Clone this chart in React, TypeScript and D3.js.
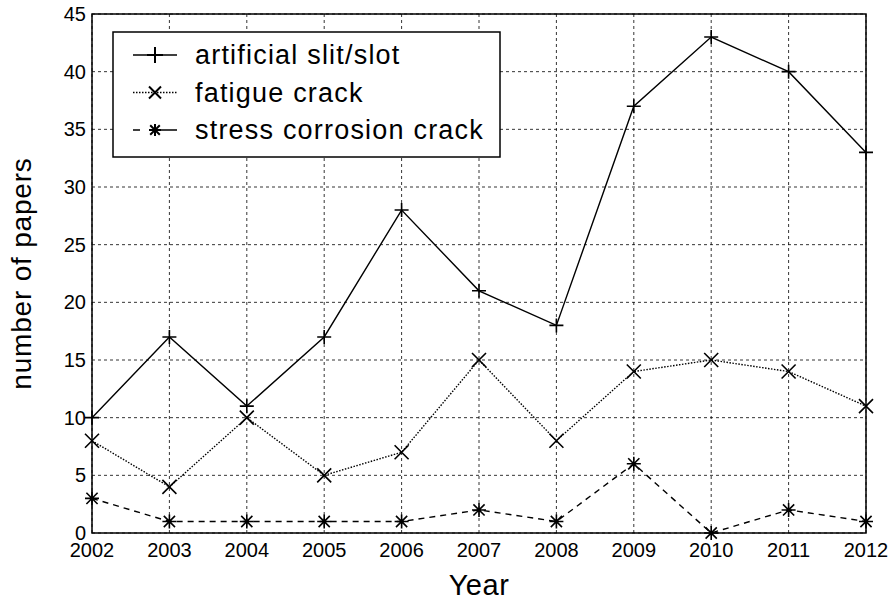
import { useEffect, useRef } from "react";
import * as d3 from "d3";

const years = [2002, 2003, 2004, 2005, 2006, 2007, 2008, 2009, 2010, 2011, 2012];
const artificialSlit = [10, 17, 11, 17, 28, 21, 18, 37, 43, 40, 33];
const fatigueCrack = [8, 4, 10, 5, 7, 15, 8, 14, 15, 14, 11];
const stressCorrosion = [3, 1, 1, 1, 1, 2, 1, 6, 0, 2, 1];
const yTicks = [0, 5, 10, 15, 20, 25, 30, 35, 40, 45];

const seriesNames = ["artificial slit/slot", "fatigue crack", "stress corrosion crack"];

export default function App() {
  const svgRef = useRef<SVGSVGElement | null>(null);

  useEffect(() => {
    const W = 892, H = 600;
    const margin = { top: 14, right: 26, bottom: 67, left: 92 };
    const width = W - margin.left - margin.right;
    const height = H - margin.top - margin.bottom;
    const font = "'Liberation Sans', Arial, sans-serif";

    const svg = d3.select(svgRef.current).attr("width", W).attr("height", H);
    svg.selectAll("*").remove();
    svg.append("rect").attr("width", W).attr("height", H).attr("fill", "white");

    const g = svg.append("g").attr("transform", `translate(${margin.left},${margin.top})`);

    const x = d3.scaleLinear().domain([2002, 2012]).range([0, width]);
    const y = d3.scaleLinear().domain([0, 45]).range([height, 0]);

    // grid
    g.selectAll(".vgrid").data(years).join("line")
      .attr("x1", d => x(d)).attr("x2", d => x(d)).attr("y1", 0).attr("y2", height)
      .attr("stroke", "#000").attr("stroke-width", 0.8).attr("stroke-dasharray", "3 3");
    g.selectAll(".hgrid").data(yTicks).join("line")
      .attr("y1", d => y(d)).attr("y2", d => y(d)).attr("x1", 0).attr("x2", width)
      .attr("stroke", "#000").attr("stroke-width", 0.8).attr("stroke-dasharray", "3 3");

    // tick labels
    g.selectAll(".xt").data(years).join("text")
      .attr("x", d => x(d)).attr("y", height + 24)
      .attr("text-anchor", "middle").style("font-family", font).style("font-size", "20px")
      .text(d => d);
    g.selectAll(".yt").data(yTicks).join("text")
      .attr("x", -6).attr("y", d => y(d)).attr("dy", "0.35em")
      .attr("text-anchor", "end").style("font-family", font).style("font-size", "20px")
      .text(d => d);

    const line = d3.line<number>().x((_, i) => x(years[i])).y(d => y(d));

    const plus = (sel: any, s: number) => {
      sel.append("path").attr("d", `M${-s},0H${s}M0,${-s}V${s}`);
    };
    const cross = (sel: any, s: number) => {
      sel.append("path").attr("d", `M${-s},${-s}L${s},${s}M${-s},${s}L${s},${-s}`);
    };
    const star = (sel: any, s: number) => {
      const d = s * 0.8;
      sel.append("path").attr("d", `M${-s},0H${s}M0,${-s}V${s}M${-d},${-d}L${d},${d}M${-d},${d}L${d},${-d}`);
    };

    const series = [
      { values: artificialSlit, dash: null as string | null, marker: plus, size: 7 },
      { values: fatigueCrack, dash: "1.5 1.5", marker: cross, size: 7 },
      { values: stressCorrosion, dash: "6 5", marker: star, size: 7 },
    ];

    series.forEach(s => {
      g.append("path").datum(s.values).attr("d", line)
        .attr("fill", "none").attr("stroke", "#000").attr("stroke-width", 1.4)
        .attr("stroke-dasharray", s.dash);
      s.values.forEach((v, i) => {
        const m = g.append("g").attr("transform", `translate(${x(years[i])},${y(v)})`)
          .attr("stroke", "#000").attr("stroke-width", 1.6).attr("fill", "none");
        s.marker(m, s.size);
      });
    });

    // frame
    g.append("rect").attr("width", width).attr("height", height)
      .attr("fill", "none").attr("stroke", "#000").attr("stroke-width", 1.5);

    // legend
    const lg = svg.append("g").attr("transform", "translate(113,32)");
    lg.append("rect").attr("width", 387).attr("height", 125)
      .attr("fill", "white").attr("stroke", "#000").attr("stroke-width", 1.5);
    seriesNames.forEach((name, i) => {
      const s = series[i];
      const cy = 23 + i * 37.5;
      lg.append("line").attr("x1", 20).attr("x2", 64).attr("y1", cy).attr("y2", cy)
        .attr("stroke", "#000").attr("stroke-width", 1.4)
        .attr("stroke-dasharray", i === 2 ? "7 9 30" : s.dash);
      const m = lg.append("g").attr("transform", `translate(42,${cy})`)
        .attr("stroke", "#000").attr("stroke-width", 2).attr("fill", "none");
      s.marker(m, i === 0 ? 8 : 6);
      lg.append("text").attr("x", 82).attr("y", cy).attr("dy", "0.35em")
        .style("font-family", font).style("font-size", "27px").style("letter-spacing", "1.2px")
        .text(name);
    });

    // axis titles
    svg.append("text").attr("x", margin.left + width / 2).attr("y", 595)
      .attr("text-anchor", "middle").style("font-family", font).style("font-size", "29px")
      .style("letter-spacing", "0.5px")
      .text("Year");
    svg.append("text").attr("transform", `translate(31,${margin.top + height / 2}) rotate(-90)`)
      .attr("text-anchor", "middle").style("font-family", font).style("font-size", "28px")
      .style("letter-spacing", "0.8px")
      .text("number of papers");
  }, []);

  return <svg ref={svgRef} style={{ display: "block", position: "absolute", left: 0, top: 0 }}></svg>;
}
